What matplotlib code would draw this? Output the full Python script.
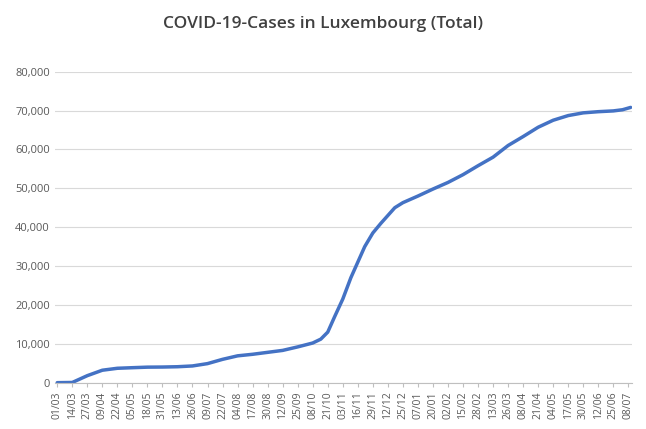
import matplotlib
matplotlib.use("Agg")
import matplotlib.pyplot as plt
import numpy as np
import pandas as pd

dates = ["2020-03-01","2020-03-14","2020-03-27","2020-04-09","2020-04-22","2020-05-05","2020-05-18",
         "2020-05-31","2020-06-13","2020-06-26","2020-07-09","2020-07-22","2020-08-04","2020-08-17",
         "2020-08-30","2020-09-12","2020-09-25","2020-10-08","2020-10-15","2020-10-21","2020-10-27",
         "2020-11-03","2020-11-10","2020-11-16","2020-11-22","2020-11-29","2020-12-06","2020-12-12",
         "2020-12-18","2020-12-25","2021-01-07","2021-01-20","2021-02-02","2021-02-15","2021-02-28",
         "2021-03-13","2021-03-26","2021-04-08","2021-04-21","2021-05-04","2021-05-17","2021-05-30",
         "2021-06-12","2021-06-25","2021-07-03","2021-07-10"]
cases = [0,50,1800,3200,3700,3850,3990,4020,4100,4300,4900,6000,6900,7300,7800,8300,9200,10200,
         11200,13000,17000,21500,27000,31000,35000,38500,41000,43000,45000,46300,48000,49800,51500,
         53500,55800,58000,61000,63300,65700,67500,68700,69400,69700,69900,70200,70800]
tick_labels = ["01/03","14/03","27/03","09/04","22/04","05/05","18/05","31/05","13/06","26/06",
               "09/07","22/07","04/08","17/08","30/08","12/09","25/09","08/10","21/10","03/11",
               "16/11","29/11","12/12","25/12","07/01","20/01","02/02","15/02","28/02","13/03",
               "26/03","08/04","21/04","04/05","17/05","30/05","12/06","25/06","08/07"]

start = pd.Timestamp("2020-03-01")
x = np.array([(pd.Timestamp(d) - start).days for d in dates])
ticks = np.arange(len(tick_labels)) * 13

plt.rcParams['font.family'] = ['Open Sans', 'DejaVu Sans']
fig = plt.figure(figsize=(6.46, 4.29), dpi=100)
ax = fig.add_axes([0.085, 0.108, 0.893, 0.725])
ax.plot(x, cases, color="#4472C4", lw=2.5, solid_capstyle="round")
ax.set_xlim(-2, x[-1] + 1)
ax.set_ylim(0, 80000)
ax.set_yticks(range(0, 80001, 10000))
ax.set_yticklabels([f"{v:,}" for v in range(0, 80001, 10000)], fontsize=8, color="#595959")
ax.set_xticks(ticks)
ax.set_xticklabels(tick_labels, rotation=90, fontsize=7.5, color="#595959")
ax.grid(axis="y", color="#D9D9D9", lw=0.8)
ax.set_axisbelow(True)
for s in ["top", "right", "left"]:
    ax.spines[s].set_visible(False)
ax.spines["bottom"].set_color("#BFBFBF")
ax.tick_params(axis="y", length=0)
ax.tick_params(axis="x", length=3, color="#BFBFBF")
fig.text(0.5, 0.935, "COVID-19-Cases in Luxembourg (Total)", ha="center", fontsize=12.5,
         fontweight="semibold", color="#404040")
fig.savefig("out.png", dpi=100)
